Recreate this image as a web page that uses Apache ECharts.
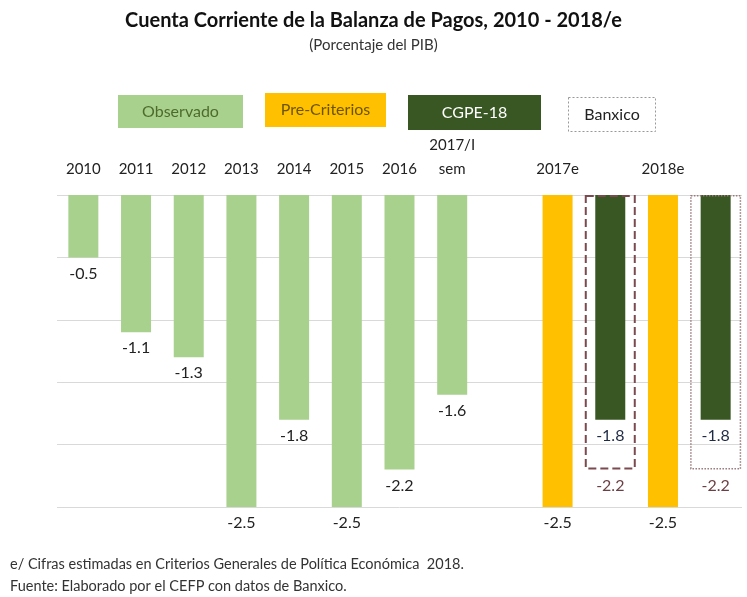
<!DOCTYPE html>
<html>
<head>
<meta charset="utf-8">
<script src="https://cdn.jsdelivr.net/npm/echarts@6/dist/echarts.min.js"></script>
<style>
  html, body { margin: 0; padding: 0; background: #fff; }
  #chart { width: 747px; height: 597px; }
</style>
</head>
<body>
<div id="chart"></div>
<script>
const categories = ['2010', '2011', '2012', '2013', '2014', '2015', '2016', '2017/I\nsem', '', '2017e', '', '2018e', '']
const observado = [-0.5, -1.1, -1.3, -2.5, -1.8, -2.5, -2.2, -1.6, null, null, null, null, null]
const preCriterios = [null, null, null, null, null, null, null, null, null, -2.5, null, -2.5, null]
const cgpe18 = [null, null, null, null, null, null, null, null, null, null, -1.8, null, -1.8]
const banxico = [null, null, null, null, null, null, null, null, null, null, -2.2, null, -2.2]
const yTicks = { min: -2.5, max: 0, interval: 0.5 }

const FONT = 'Lato, "Liberation Sans", sans-serif'
const fmt = (p) => p.value.toFixed(1)

const chart = echarts.init(document.getElementById('chart'))

const valueLabel = (color) => ({
  show: true,
  position: 'bottom',
  distance: 8,
  formatter: fmt,
  color,
  fontSize: 16,
  fontFamily: FONT,
})

const legendBox = (x, y, w, h, fill, stroke, dash, text, textColor) => ({
  type: 'group',
  left: x,
  top: y,
  children: [
    {
      type: 'rect',
      shape: { x: 0, y: 0, width: w, height: h },
      style: { fill, stroke, lineWidth: stroke ? 1 : 0, lineDash: dash },
    },
    {
      type: 'text',
      x: w / 2,
      y: h / 2,
      style: {
        text,
        fill: textColor,
        font: '16px ' + FONT,
        align: 'center',
        verticalAlign: 'middle',
      },
    },
  ],
})

const option = {
  animation: false,
  backgroundColor: '#fff',
  title: {
    text: 'Cuenta Corriente de la Balanza de Pagos, 2010 - 2018/e',
    subtext: '(Porcentaje del PIB)',
    left: 'center',
    top: 6,
    itemGap: 7,
    textStyle: { fontFamily: FONT, fontSize: 20, fontWeight: 'bold', color: '#111' },
    subtextStyle: { fontFamily: FONT, fontSize: 15, color: '#333' },
  },
  legend: { show: false },
  grid: { left: 57, right: 5, top: 195, bottom: 90 },
  xAxis: [
    {
      type: 'category',
      position: 'top',
      data: categories,
      axisLine: { show: false },
      axisTick: { show: false },
      axisLabel: {
        interval: 0,
        margin: 14,
        fontSize: 15,
        lineHeight: 24,
        color: '#222',
        fontFamily: FONT,
      },
    },
    {
      type: 'category',
      position: 'top',
      data: categories,
      show: false,
    },
  ],
  yAxis: {
    type: 'value',
    min: yTicks.min,
    max: yTicks.max,
    interval: yTicks.interval,
    axisLabel: { show: false },
    axisLine: { show: false },
    axisTick: { show: false },
    splitLine: { lineStyle: { color: '#d9d9d9', width: 1 } },
  },
  series: [
    {
      name: 'Observado',
      type: 'bar',
      stack: 'all',
      barWidth: 30,
      data: observado,
      itemStyle: { color: '#a9d18e' },
      label: valueLabel('#222'),
    },
    {
      name: 'Pre-Criterios',
      type: 'bar',
      stack: 'all',
      barWidth: 30,
      data: preCriterios,
      itemStyle: { color: '#ffc000' },
      label: valueLabel('#222'),
    },
    {
      name: 'CGPE-18',
      type: 'bar',
      stack: 'all',
      barWidth: 30,
      data: cgpe18,
      itemStyle: { color: '#385723' },
      label: valueLabel('#1f2a44'),
    },
    {
      name: 'Banxico',
      type: 'bar',
      xAxisIndex: 1,
      barWidth: 51,
      z: 3,
      data: banxico.map((v, i) =>
        i === 12
          ? { value: v, itemStyle: { borderType: 'dotted', borderWidth: 1.5, borderColor: '#9a7a7a' } }
          : v,
      ),
      itemStyle: {
        color: 'rgba(0,0,0,0)',
        borderColor: '#7a4a4f',
        borderWidth: 2,
        borderType: 'dashed',
      },
      label: valueLabel('#6b3f44'),
    },
  ],
  graphic: [
    legendBox(118, 95, 125, 33, '#a9d18e', null, null, 'Observado', '#4e6b2e'),
    legendBox(265, 93, 121, 34, '#ffc000', null, null, 'Pre-Criterios', '#6b5500'),
    legendBox(408, 95, 133, 35, '#385723', null, null, 'CGPE-18', '#ffffff'),
    legendBox(568, 97, 87, 34, '#ffffff', '#999', [2, 2], 'Banxico', '#222'),
    {
      type: 'text',
      left: 10,
      top: 557,
      style: {
        text: 'e/ Cifras estimadas en Criterios Generales de Política Económica  2018.',
        font: '14.5px ' + FONT,
        fill: '#333',
      },
    },
    {
      type: 'text',
      left: 10,
      top: 579,
      style: {
        text: 'Fuente: Elaborado por el CEFP con datos de Banxico.',
        font: '14.5px ' + FONT,
        fill: '#333',
      },
    },
  ],
}

chart.setOption(option)
</script>
</body>
</html>
